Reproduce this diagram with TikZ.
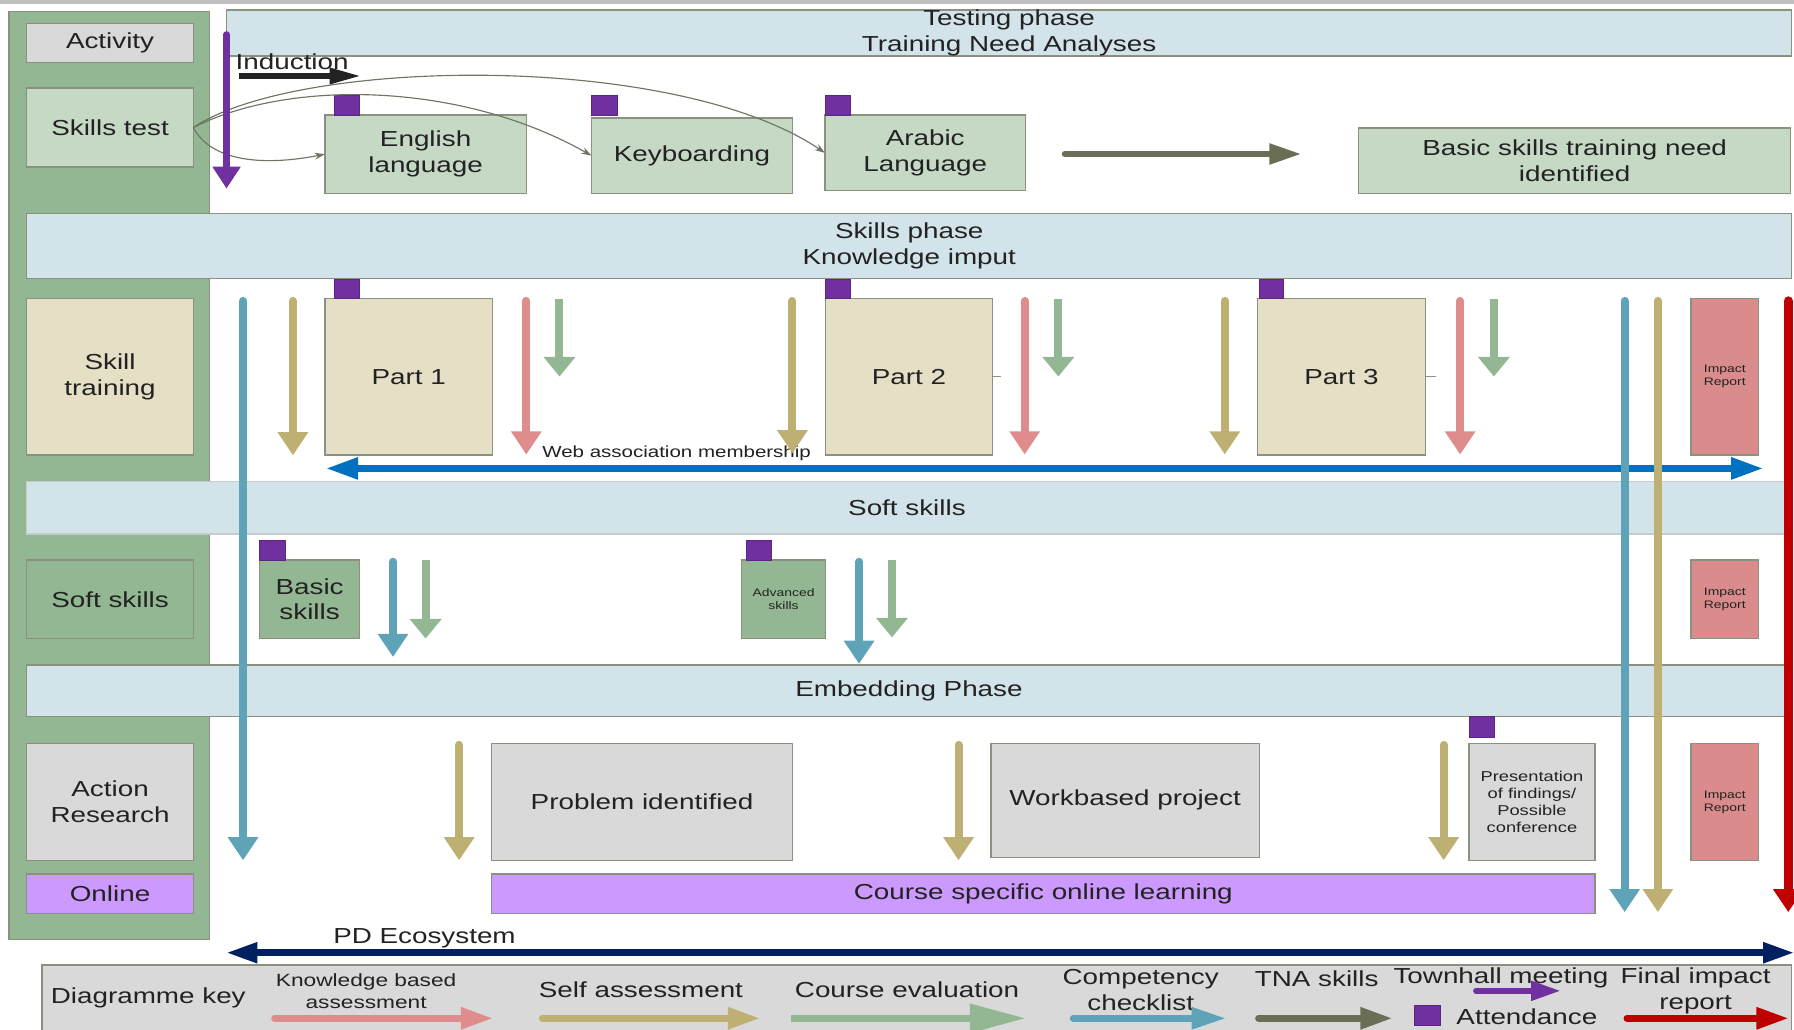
\documentclass[tikz,border=0pt]{standalone}
\usepackage{fontspec}
\setmainfont{Liberation Sans}[FakeStretch=1.28]
\usetikzlibrary{arrows.meta}

\definecolor{edgegrey}{HTML}{8A9180}
\definecolor{softedge}{HTML}{C4CCCF}
\definecolor{bandblue}{HTML}{D2E3EA}
\definecolor{palegreen}{HTML}{C6D9C5}
\definecolor{midgreen}{HTML}{93B793}
\definecolor{tanfill}{HTML}{E5DFC6}
\definecolor{greyfill}{HTML}{D9D9D9}
\definecolor{attendpurple}{HTML}{7030A0}
\definecolor{lilac}{HTML}{CC99FF}
\definecolor{rosefill}{HTML}{DA8B8B}
\definecolor{rosearrow}{HTML}{DE8C8C}
\definecolor{olivearrow}{HTML}{BEB072}
\definecolor{tealarrow}{HTML}{5FA3B8}
\definecolor{webblue}{HTML}{0070C0}
\definecolor{navyline}{HTML}{002060}
\definecolor{reportred}{HTML}{C00000}
\definecolor{tnagrey}{HTML}{6A6E55}
\definecolor{linkgrey}{HTML}{6E7561}
\definecolor{topstrip}{HTML}{BFBFBF}
\definecolor{inkdark}{HTML}{222222}

% type sizes
\newcommand\txtL{\fontsize{19}{22.5}\selectfont}
\newcommand\txtM{\fontsize{15.5}{19.5}\selectfont}
\newcommand\txtW{\fontsize{14}{16}\selectfont}
\newcommand\txtP{\fontsize{12.5}{15}\selectfont}
\newcommand\txtT{\fontsize{9.5}{11.5}\selectfont}

% \boxcell{style}{x1}{y1}{x2}{y2}{name}{text}
\newcommand\boxcell[7]{\node[#1, minimum width={#4-#2}, minimum height={#5-#3}] (#6) at ({(#2+#4)/2},{(#3+#5)/2}) {#7};}

\begin{document}
\begin{tikzpicture}[x=1pt,y=-1pt,
  box/.style={draw=edgegrey, line width=1.2pt, inner sep=0pt, outer sep=0pt,
              align=center, font=\txtL, text=inkdark},
  band/.style={box, fill=bandblue},
  softband/.style={box, draw=softedge, fill=bandblue},
  column/.style={box, fill=midgreen},
  testbox/.style={box, fill=palegreen},
  trainbox/.style={box, fill=tanfill},
  greenbox/.style={box, fill=midgreen},
  greybox/.style={box, fill=greyfill},
  onlinebox/.style={box, fill=lilac},
  impactbox/.style={box, fill=rosefill, font=\txtT},
  attendsq/.style={draw=attendpurple!80!black, line width=0.6pt, fill=attendpurple,
              inner sep=0pt, outer sep=0pt},
  plain/.style={inner sep=0pt, outer sep=0pt, align=center, font=\txtL, text=inkdark},
  % vertical marks
  downmark/.style={line width=7pt, line cap=round,
              -{Triangle[length=20pt,width=27pt,line width=0pt]}},
  selfdown/.style={downmark, draw=olivearrow, fill=olivearrow},
  kbdown/.style={downmark, draw=rosearrow, fill=rosearrow},
  checkdown/.style={downmark, draw=tealarrow, fill=tealarrow},
  evaldown/.style={line width=7pt, draw=midgreen, fill=midgreen,
              -{Triangle[length=17pt,width=28pt,line width=0pt]}},
  finaldown/.style={downmark, line width=8pt, draw=reportred, fill=reportred},
  % horizontal marks
  rightmark/.style={line width=6pt, line cap=round,
              -{Triangle[length=27pt,width=20pt,line width=0pt]}},
  link/.style={draw=linkgrey, line width=1pt,
              -{Stealth[length=9pt,width=6pt]}},
]
\useasboundingbox (0,0) rectangle (1568,900);

% strip along the top edge
\fill[topstrip] (0,0) rectangle (1568,3.5);

% left column of activities
\boxcell{column}{8}{10}{183}{821}{col}{}
\boxcell{greybox}{23.4}{20.4}{169}{54.8}{activity}{Activity}
\boxcell{testbox}{23.4}{77}{169}{146}{skillstest}{Skills test}
\boxcell{trainbox}{23.4}{260.8}{169}{397.7}{skilltrain}{Skill\\training}
\boxcell{greenbox}{23.4}{489.5}{169}{558}{softskills}{Soft skills}
\boxcell{greybox}{23.4}{649.7}{169}{752.3}{action}{Action\\Research}
\boxcell{onlinebox}{23.4}{763.9}{169}{798.3}{online}{Online}

% phase bands
\boxcell{band}{198}{8.7}{1566}{49}{testing}{Testing phase\\Training Need Analyses}
\boxcell{band}{23.4}{186.4}{1566}{243.2}{skillsphase}{Skills phase\\Knowledge imput}
\boxcell{softband}{23.4}{421}{1562}{466.8}{softphase}{Soft skills}
\boxcell{band}{23.4}{581.2}{1565.5}{626.4}{embed}{Embedding Phase}

% testing phase row
\boxcell{testbox}{284}{100.5}{460}{169}{english}{English\\language}
\boxcell{testbox}{517}{103}{692.6}{169}{keyboard}{Keyboarding}
\boxcell{testbox}{721}{100.5}{896.3}{166.7}{arabic}{Arabic\\Language}
\boxcell{testbox}{1187.6}{112}{1565}{169}{needid}{Basic skills training need\\identified}
\boxcell{attendsq}{292}{83}{314}{100.5}{sqenglish}{}
\boxcell{attendsq}{517}{83}{539.5}{100.5}{sqkeyboard}{}
\boxcell{attendsq}{721.7}{83}{743.5}{100.5}{sqarabic}{}

% skill training row
\boxcell{trainbox}{284}{260.8}{430.4}{397.7}{part1}{Part 1}
\boxcell{trainbox}{721.7}{260.8}{867.2}{397.7}{part2}{Part 2}
\boxcell{trainbox}{1099}{260.8}{1246}{397.7}{part3}{Part 3}
\boxcell{impactbox}{1478}{260.8}{1537}{397.7}{impact1}{Impact\\Report}
\boxcell{attendsq}{292}{244}{314.4}{260.8}{sqpart1}{}
\boxcell{attendsq}{721.7}{244}{743.5}{260.8}{sqpart2}{}
\boxcell{attendsq}{1100.6}{244}{1121.7}{260.8}{sqpart3}{}
\draw[edgegrey, line width=1pt] (part2.east) -- ++(8,0);
\draw[edgegrey, line width=1pt] (part3.east) -- ++(9,0);

% soft skills row
\boxcell{greenbox}{226.8}{489.5}{314.4}{558}{basic}{Basic\\skills}
\boxcell{greenbox, font=\txtT}{648}{489.5}{721.7}{558}{advanced}{Advanced\\skills}
\boxcell{impactbox}{1478}{489.5}{1537}{558}{impact2}{Impact\\Report}
\boxcell{attendsq}{226.8}{472.6}{249}{489.5}{sqbasic}{}
\boxcell{attendsq}{652}{472.6}{674.2}{489.5}{sqadvanced}{}

% embedding row
\boxcell{greybox}{429.8}{649.7}{692.6}{752.3}{problem}{Problem identified}
\boxcell{greybox}{866.2}{649.7}{1100.6}{749.3}{workbased}{Workbased project}
\boxcell{greybox, font=\txtP}{1283.9}{649.7}{1394}{752.3}{present}{Presentation\\of findings/\\Possible\\conference}
\boxcell{impactbox}{1478}{649.7}{1537}{752.3}{impact3}{Impact\\Report}
\boxcell{attendsq}{1283.9}{626.4}{1306.3}{644.4}{sqpresent}{}
\boxcell{onlinebox}{429.8}{763.9}{1394}{798.3}{course}{Course specific online learning}

% skills test routes
\draw[link] (skillstest.east) .. controls (185,142) and (232,145) .. (english.west);
\draw[link] (skillstest.east) .. controls (250,70) and (400,70) .. (keyboard.west);
\draw[link] (skillstest.east) .. controls (260,50) and (590,45) .. (arabic.west);

% induction and TNA outcome
\node[plain, anchor=west] (induct) at (206,54) {Induction};
\draw[line width=5pt, draw=inkdark, fill=inkdark,
      -{Triangle[length=26pt,width=15pt,line width=0pt]}] (209,66.4) -- (314,66.4);
\draw[rightmark, line width=6pt, draw=tnagrey, fill=tnagrey,
      -{Triangle[length=27pt,width=19pt,line width=0pt]}] (931,134.6) -- (1136.4,134.6);

% attendance through the testing phase
\draw[line width=5.5pt, line cap=round, draw=attendpurple, fill=attendpurple,
      -{Triangle[length=19pt,width=25pt,line width=0pt]}] (198,30) -- (198,164.6);

% web association membership
\node[plain, font=\txtW, anchor=west] (weblabel) at (474,396.3) {Web association membership};
\draw[line width=6pt, draw=webblue, fill=webblue,
      {Triangle[length=27pt,width=20pt,line width=0pt]}-{Triangle[length=27pt,width=20pt,line width=0pt]}]
      (286,409.4) -- (1540,409.4);

% self assessment
\draw[selfdown] (256,263) -- (256,397.7);
\draw[selfdown] (692.6,263) -- (692.6,396);
\draw[selfdown] (1070.5,263) -- (1070.5,397);
\draw[selfdown] (401.3,651) -- (401.3,751.7);
\draw[selfdown] (837.8,651) -- (837.8,751.7);
\draw[selfdown] (1261.8,651) -- (1261.8,751.7);

% knowledge based assessment
\draw[kbdown] (460,263) -- (460,397);
\draw[kbdown] (895.6,263) -- (895.6,397);
\draw[kbdown] (1276.2,263) -- (1276.2,397);

% course evaluation
\draw[evaldown] (489,261) -- (489,329);
\draw[evaldown] (925,261) -- (925,329);
\draw[evaldown] (1305.7,261) -- (1305.7,329);
\draw[evaldown] (372,489.5) -- (372,558);
\draw[evaldown] (779.6,489.5) -- (779.6,557);

% competency checklist
\draw[checkdown] (212.4,263) -- (212.4,751.7);
\draw[checkdown] (343.5,491) -- (343.5,574);
\draw[checkdown] (750.8,491) -- (750.8,580);
\draw[checkdown] (1420,263) -- (1420,797);
\draw[selfdown] (1449,263) -- (1449,797);

% final impact report
\draw[finaldown] (1563,263) -- (1563,797);

% PD ecosystem
\node[plain] (pdeco) at (371,820) {PD Ecosystem};
\draw[line width=6pt, draw=navyline, fill=navyline,
      {Triangle[length=26pt,width=19pt,line width=0pt]}-{Triangle[length=26pt,width=19pt,line width=0pt]}]
      (199,832.7) -- (1567,832.7);

% diagramme key
\boxcell{greybox}{36.8}{843.5}{1566}{906}{keybox}{}
\node[plain] (keyhead) at (129.6,872) {Diagramme key};
\node[plain, font=\txtM] (kbkey) at (320,866.4) {Knowledge based\\assessment};
\node[plain] (selfkey) at (560.2,865.3) {Self assessment};
\node[plain] (evalkey) at (792.8,865.3) {Course evaluation};
\node[plain] (checkkey) at (997,865.3) {Competency\\checklist};
\node[plain] (tnakey) at (1150.8,855.1) {TNA skills};
\node[plain] (townkey) at (1311.9,855.1) {Townhall meeting};
\node[plain] (finalkey) at (1482,866.3) {Final impact\\report};
\node[plain] (attendkey) at (1334.5,888.6) {Attendance};
\boxcell{attendsq}{1236.1}{878.4}{1258.5}{895.9}{sqkey}{}

\draw[rightmark, draw=rosearrow, fill=rosearrow] (240,890) -- (429.8,890);
\draw[rightmark, draw=olivearrow, fill=olivearrow] (474,890) -- (663.2,890);
\draw[line width=6pt, draw=midgreen, fill=midgreen,
      -{Triangle[length=48pt,width=26pt,line width=0pt]}] (691.6,890) -- (895.6,890);
\draw[rightmark, draw=tealarrow, fill=tealarrow,
      -{Triangle[length=29pt,width=20pt,line width=0pt]}] (938,890) -- (1070.5,890);
\draw[rightmark, draw=tnagrey, fill=tnagrey] (1100,890) -- (1216,890);
\draw[line width=5pt, line cap=round, draw=attendpurple, fill=attendpurple,
      -{Triangle[length=25pt,width=18pt,line width=0pt]}] (1290,866) -- (1363.2,866);
\draw[rightmark, draw=reportred, fill=reportred] (1422,890) -- (1562.2,890);
\end{tikzpicture}
\end{document}
